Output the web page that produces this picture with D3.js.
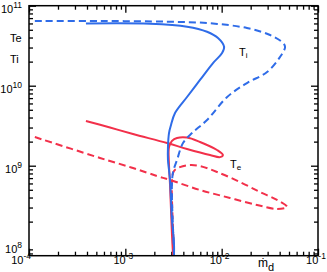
<!DOCTYPE html>
<html>
<head>
<meta charset="utf-8">
<script src="https://cdn.jsdelivr.net/npm/d3@7"></script>
<style>
  body { margin: 0; background: #fff; }
  svg { display: block; font-family: "Liberation Sans", Arial, sans-serif; }
</style>
</head>
<body>
<svg id="chart" width="327" height="272"></svg>
<script>
// [accretion rate, temperature] pairs
const tiSolid = [
  [3.9e-4, 6.0e10], [1.8e-3, 5.95e10], [4.37e-3, 5.47e10], [7.05e-3, 4.73e10],
  [9.16e-3, 3.95e10], [1.06e-2, 3.07e10], [1.01e-2, 2.56e10], [8.13e-3, 1.92e10],
  [5.96e-3, 1.18e10], [4.37e-3, 7.22e9], [3.28e-3, 4.56e9], [2.98e-3, 3.23e9],
  [2.84e-3, 2.56e9], [2.77e-3, 1.71e9], [2.77e-3, 1.18e9], [2.84e-3, 8.84e8],
  [2.91e-3, 6.63e8], [2.98e-3, 3.73e8], [3.05e-3, 2.10e8], [3.2e-3, 1.08e8],
  [3.2e-3, 7.5e7]
];
const tiDashed = [
  [1.15e-4, 6.44e10], [5.46e-4, 6.44e10], [2.71e-3, 6.31e10], [7.57e-3, 6.03e10],
  [1.83e-2, 5.26e10], [3.18e-2, 4.30e10], [4.34e-2, 3.42e10], [4.55e-2, 3.05e10],
  [4.04e-2, 2.29e10], [2.96e-2, 1.48e10], [1.83e-2, 1.08e10], [1.14e-2, 7.22e9],
  [7.05e-3, 3.73e9], [4.92e-3, 2.56e9], [3.97e-3, 1.92e9], [3.44e-3, 1.18e9],
  [3.13e-3, 8.35e8], [3.05e-3, 6.08e8], [3.05e-3, 3.73e8], [3.13e-3, 1.57e8],
  [3.2e-3, 7.5e7]
];
const teSolid = [
  [3.9e-4, 3.62e9], [6.93e-4, 3.0e9], [1.2e-3, 2.49e9], [2.71e-3, 1.92e9],
  [4.37e-3, 1.62e9], [7.57e-3, 1.36e9], [9.62e-3, 1.28e9], [1.03e-2, 1.36e9],
  [8.95e-3, 1.57e9], [5.96e-3, 1.98e9], [4.37e-3, 2.25e9], [3.44e-3, 2.22e9],
  [3.05e-3, 2.04e9], [2.84e-3, 1.71e9], [2.84e-3, 1.02e9], [2.91e-3, 5.74e8],
  [2.98e-3, 2.79e8], [3.05e-3, 1.36e8], [3.13e-3, 7.5e7]
];
const teDashed = [
  [1.15e-4, 2.28e9], [5.46e-4, 1.25e9], [1.2e-3, 9.36e8], [2.13e-3, 7.44e8],
  [2.91e-3, 6.63e8], [5.96e-3, 4.97e8], [1.22e-2, 3.95e8], [2.33e-2, 3.23e8],
  [3.75e-2, 2.88e8], [4.77e-2, 3.05e8], [3.75e-2, 3.73e8], [2.5e-2, 4.69e8],
  [1.55e-2, 6.25e8], [8.95e-3, 8.35e8], [5.96e-3, 9.9e8], [4.69e-3, 1.02e9],
  [3.69e-3, 9.6e8], [3.2e-3, 8.59e8], [3.05e-3, 6.63e8], [3.05e-3, 3.73e8],
  [3.13e-3, 1.57e8], [3.2e-3, 7.5e7]
];

const xMajor = [1e-4, 1e-3, 1e-2, 1e-1];
const xLabels = ["-4", "-3", "-2", "-1"];
const yMajor = [1e8, 1e9, 1e10, 1e11];
const yLabels = ["8", "9", "10", "11"];

const blue = "#2f6ce8", red = "#f2304a";

const svg = d3.select("#chart");
const pLeft = 29, pRight = 318, pTop = 5.7, pBottom = 255.7;

const x = d3.scaleLog().domain([1e-4, 1e-1]).range([pLeft, pRight]);
const y = d3.scaleLog().domain([7.5e7, 1e11]).range([pBottom, pTop]);

function minors(lo, hi) {
  const out = [];
  for (let e = lo; e < hi; e++)
    for (let k = 2; k <= 9; k++) out.push(k * Math.pow(10, e));
  return out;
}
const xMinor = minors(-4, -1);
const yMinor = minors(7, 11).filter(v => v >= 7.5e7 && v <= 1e11);

function ticks(axisFn, scale, vals, size, tx, ty) {
  const g = svg.append("g")
    .attr("transform", `translate(${tx},${ty})`)
    .call(axisFn(scale).tickValues(vals).tickSize(size).tickSizeOuter(0).tickFormat(""));
  g.select(".domain").remove();
  g.selectAll("line").attr("stroke", "#000").attr("stroke-width", 1.3);
  return g;
}

// ticks point inward on all four sides
ticks(d3.axisBottom, x, xMajor, -7, 0, pBottom);
ticks(d3.axisBottom, x, xMinor, -4, 0, pBottom);
ticks(d3.axisTop, x, xMajor, -7, 0, pTop);
ticks(d3.axisTop, x, xMinor, -4, 0, pTop);
ticks(d3.axisLeft, y, yMajor.filter(v => v > 1e8), -7, pLeft, 0);
ticks(d3.axisLeft, y, yMinor, -4, pLeft, 0);
ticks(d3.axisRight, y, yMajor.filter(v => v > 1e8), -7, pRight, 0);
ticks(d3.axisRight, y, yMinor, -4, pRight, 0);

svg.append("defs").append("clipPath").attr("id", "plot")
  .append("rect").attr("x", pLeft).attr("y", pTop)
  .attr("width", pRight - pLeft).attr("height", pBottom - pTop);

const line = d3.line()
  .x(d => x(d[0])).y(d => y(d[1]))
  .curve(d3.curveCatmullRom.alpha(0.5));

const curves = svg.append("g").attr("clip-path", "url(#plot)");
function draw(data, color, dash) {
  curves.append("path")
    .attr("d", line(data))
    .attr("fill", "none")
    .attr("stroke", color)
    .attr("stroke-width", 2)
    .attr("stroke-dasharray", dash)
    .attr("stroke-linejoin", "round");
}
draw(teDashed, red, "7,4");
draw(teSolid, red, null);
draw(tiDashed, blue, "7,4");
draw(tiSolid, blue, null);

svg.append("rect")
  .attr("x", pLeft).attr("y", pTop)
  .attr("width", pRight - pLeft).attr("height", pBottom - pTop)
  .attr("fill", "none").attr("stroke", "#000").attr("stroke-width", 1.5);

// tick labels with superscript exponents
function power(g, exp) {
  g.append("tspan").text("10");
  g.append("tspan").attr("dy", -5).attr("font-size", 8.5).text(exp);
}
yMajor.forEach((v, i) => {
  const t = svg.append("text")
    .attr("x", 22).attr("y", Math.min(y(v) + 7, 256))
    .attr("text-anchor", "end").attr("font-size", 11);
  power(t, yLabels[i]);
});
xMajor.forEach((v, i) => {
  const t = svg.append("text")
    .attr("x", i === 0 ? x(v) + 2 : x(v) - 2).attr("y", 264)
    .attr("text-anchor", i === 0 ? "end" : "middle").attr("font-size", 11);
  power(t, xLabels[i]);
});

// axis titles
const xt = svg.append("text").attr("x", 258).attr("y", 267).attr("font-size", 12);
xt.append("tspan").text("\u1E41");
xt.append("tspan").attr("dy", 4).attr("font-size", 11).text("d");

svg.append("text").attr("x", 10).attr("y", 42).attr("font-size", 11).text("Te");
svg.append("text").attr("x", 10).attr("y", 63).attr("font-size", 11).text("Ti");

// curve labels
function sub(xp, yp, s) {
  const t = svg.append("text").attr("x", xp).attr("y", yp).attr("font-size", 11);
  t.append("tspan").text("T");
  t.append("tspan").attr("dy", 2).attr("font-size", 8).text(s);
}
sub(239, 56, "i");
sub(230, 168, "e");
</script>
</body>
</html>
